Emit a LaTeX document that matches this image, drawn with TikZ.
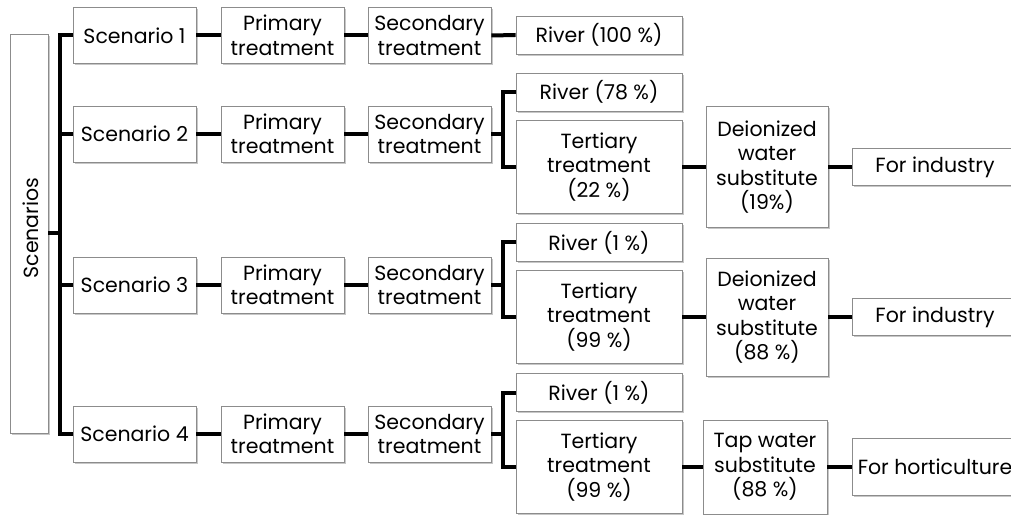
\documentclass[tikz,border=0pt]{standalone}
\usepackage{fontspec}
\setmainfont{Poppins}
\usetikzlibrary{shadows}
\tikzset{
  box/.style={draw=black!45, line width=0.8bp, fill=white, inner sep=0pt, align=center,
    font=\fontsize{20.5bp}{24.5bp}\selectfont,
    drop shadow={shadow xshift=1.6bp, shadow yshift=-1.8bp, fill=black, opacity=0.22}},
  lbl/.style={inner sep=0pt, font=\fontsize{20.5bp}{24.5bp}\selectfont},
  wa/.style={minimum width=123bp, minimum height=56bp},
  riv/.style={minimum width=166bp, minimum height=38bp},
  ter/.style={minimum width=166bp, minimum height=93bp},
  conn/.style={line width=4bp, black, line join=miter},
}
\begin{document}
\begin{tikzpicture}[x=1bp,y=-1bp]
\useasboundingbox (0,0) rectangle (1011,515);
\clip (0,0) rectangle (1011,515);
% left box
\node[box, minimum width=38bp, minimum height=399bp] (sc) at (29,233.5) {};
\node[lbl, rotate=90] (sclabel) at (31,228) {Scenarios};
% scenario column
\node[box, wa] (s1) at (134.5,35.5) {Scenario 1};
\node[box, wa] (s2) at (134.5,134) {Scenario 2};
\node[box, wa] (s3) at (134.5,285) {Scenario 3};
\node[box, wa] (s4) at (134.5,434) {Scenario 4};
% primary
\node[box, wa] (p1) at (282.5,35.5) {Primary\\treatment};
\node[box, wa] (p2) at (282.5,134) {Primary\\treatment};
\node[box, wa] (p3) at (282.5,285) {Primary\\treatment};
\node[box, wa] (p4) at (282.5,434) {Primary\\treatment};
% secondary
\node[box, wa] (q1) at (429.5,35.5) {Secondary\\treatment};
\node[box, wa] (q2) at (429.5,134) {Secondary\\treatment};
\node[box, wa] (q3) at (429.5,285) {Secondary\\treatment};
\node[box, wa] (q4) at (429.5,434) {Secondary\\treatment};
% rivers
\node[box, riv] (r1) at (599,35) {River (100 \%)};
\node[box, riv] (r2) at (599,92) {River (78 \%)};
\node[box, riv] (r3) at (599,242.5) {River (1 \%)};
\node[box, riv] (r4) at (599,392.5) {River (1 \%)};
% tertiary
\node[box, ter] (t2) at (599,167) {Tertiary\\treatment\\(22 \%)};
\node[box, ter] (t3) at (599,317) {Tertiary\\treatment\\(99 \%)};
\node[box, ter] (t4) at (599,467) {Tertiary\\treatment\\(99 \%)};
% substitutes
\node[box, minimum width=122bp, minimum height=121bp] (d2) at (767,167) {Deionized\\water\\substitute\\(19\%)};
\node[box, minimum width=122bp, minimum height=118bp] (d3) at (767,317) {Deionized\\water\\substitute\\(88 \%)};
\node[box, minimum width=124bp, minimum height=94bp] (d4) at (765,467) {Tap water\\substitute\\(88 \%)};
% uses
\node[box, minimum width=166bp, minimum height=37bp] (u2) at (935,167) {For industry};
\node[box, minimum width=166bp, minimum height=37bp] (u3) at (935,317) {For industry};
\node[box, minimum width=166bp, minimum height=57bp] (u4) at (935,467) {For horticulture};
% connectors
\coordinate (tk) at (60,0);
\coordinate (br) at (503,0);
\draw[conn] (s1.west) -| (tk |- s4.west) -- (s4.west);
\draw[conn] (s2.west) -- (tk |- s2.west);
\draw[conn] (s3.west) -- (tk |- s3.west);
\draw[conn] (sc.east) -- (tk |- sc.east);
\foreach \i in {1,2,3,4} {
  \draw[conn] (s\i.east) -- (p\i.west);
  \draw[conn] (p\i.east) -- (q\i.west);
}
\draw[conn] (q1.east) -- (r1.west);
\foreach \i in {2,3,4} {
  \draw[conn] (q\i.east) -- (br |- q\i.east);
  \draw[conn] (r\i.west) -| (br |- t\i.west) -- (t\i.west);
  \draw[conn] (t\i.east) -- (d\i.west);
  \draw[conn] (d\i.east) -- (u\i.west);
}
\end{tikzpicture}
\end{document}
